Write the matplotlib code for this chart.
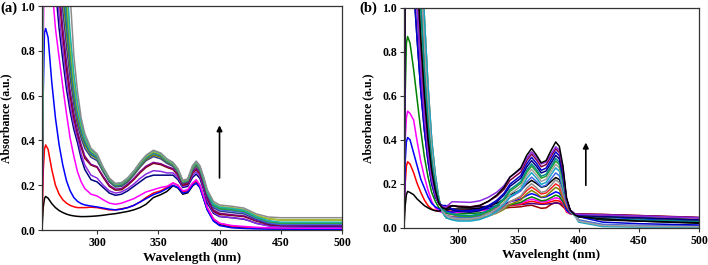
"""
UV-vis titration spectra, panels (a) and (b).
"""
import matplotlib
matplotlib.use('Agg')
import matplotlib.pyplot as plt

plt.rcParams.update({
    'font.family': ['Liberation Serif', 'DejaVu Serif'],
    'font.weight': 'bold',
    'axes.labelweight': 'bold',
    'font.size': 8.5,
    'axes.linewidth': 0.9,
    'axes.edgecolor': '#333333',
})

# ---------------- panel (a) ----------------
wl_a = [255, 256, 257, 258, 260, 263, 266, 269, 272, 275, 278, 281, 284, 287, 290,
        295, 300, 305, 310, 315, 320, 325, 330, 335, 340, 346, 352, 357, 362, 366,
        370, 374, 378, 381, 384, 387, 390, 395, 400, 410, 420, 425, 430, 440, 450,
        475, 500]

a_black = [0, 0.1, 0.14, 0.15, 0.142, 0.118, 0.1, 0.087, 0.078, 0.071, 0.066, 0.063, 0.061, 0.06, 0.06,
           0.061, 0.063, 0.066, 0.07, 0.073, 0.078, 0.083, 0.09, 0.1, 0.115, 0.145, 0.158, 0.172, 0.198, 0.188,
           0.16, 0.166, 0.197, 0.21, 0.19, 0.14, 0.09, 0.045, 0.025, 0.013, 0.01, 0.009, 0.008, 0.007, 0.006,
           0.005, 0.005]
a_red = [0, 0.26, 0.36, 0.38, 0.36, 0.27, 0.2, 0.16, 0.135, 0.12, 0.11, 0.104, 0.1, 0.1, 0.1,
         0.102, 0.1, 0.095, 0.09, 0.09, 0.095, 0.1, 0.11, 0.125, 0.145, 0.165, 0.175, 0.19, 0.21, 0.2,
         0.17, 0.176, 0.207, 0.22, 0.2, 0.15, 0.1, 0.05, 0.03, 0.017, 0.013, 0.011, 0.009, 0.008, 0.007,
         0.006, 0.006]
a_blue = [0, 0.6, 0.88, 0.9, 0.86, 0.66, 0.5, 0.38, 0.29, 0.22, 0.175, 0.145, 0.128, 0.118, 0.112,
          0.107, 0.103, 0.098, 0.093, 0.09, 0.093, 0.1, 0.11, 0.125, 0.14, 0.158, 0.17, 0.185, 0.2, 0.19,
          0.165, 0.17, 0.2, 0.21, 0.19, 0.14, 0.09, 0.04, 0.02, 0.01, 0.007, 0.006, 0.005, 0.004, 0.004,
          0.003, 0.003]
a_magenta = [0, 0.8, 1.3, 1.5, 1.45, 1.1, 0.9, 0.77, 0.64, 0.52, 0.41, 0.33, 0.26, 0.215, 0.185,
             0.16, 0.152, 0.135, 0.12, 0.115, 0.12, 0.13, 0.14, 0.155, 0.17, 0.18, 0.19, 0.195, 0.21, 0.2,
             0.175, 0.18, 0.21, 0.225, 0.2, 0.15, 0.1, 0.05, 0.03, 0.02, 0.016, 0.014, 0.012, 0.01, 0.009,
             0.008, 0.008]

# upper family: common sharp rise, then own fall (263-290) and band (295-500)
rise_a = [0, 1.2, 2.0, 2.5, 2.5]
a_navy = rise_a + [1.4, 1.08, 0.9, 0.76, 0.63, 0.53, 0.45, 0.39, 0.32, 0.27] + [
    0.225, 0.215, 0.19, 0.165, 0.155, 0.16, 0.175, 0.195, 0.215, 0.235, 0.245, 0.245, 0.245, 0.245, 0.225,
    0.19, 0.195, 0.235, 0.25, 0.23, 0.18, 0.12, 0.075, 0.06, 0.055, 0.048, 0.04, 0.03, 0.02, 0.017,
    0.015, 0.015]
a_violet = rise_a + [1.5, 1.15, 0.96, 0.81, 0.67, 0.56, 0.47, 0.41, 0.34, 0.29] + [
    0.245, 0.232, 0.2, 0.175, 0.165, 0.17, 0.185, 0.205, 0.23, 0.25, 0.265, 0.262, 0.255, 0.255, 0.235,
    0.195, 0.2, 0.245, 0.26, 0.24, 0.19, 0.13, 0.08, 0.062, 0.055, 0.05, 0.04, 0.03, 0.018, 0.014,
    0.012, 0.012]
a_wine = rise_a + [1.6, 1.25, 1.04, 0.87, 0.72, 0.6, 0.5, 0.43, 0.37, 0.32] + [
    0.29, 0.28, 0.235, 0.195, 0.178, 0.18, 0.2, 0.225, 0.255, 0.28, 0.298, 0.292, 0.28, 0.27, 0.245,
    0.2, 0.205, 0.255, 0.27, 0.25, 0.2, 0.14, 0.085, 0.07, 0.065, 0.06, 0.05, 0.04, 0.025, 0.02,
    0.02, 0.02]
a_purple = rise_a + [1.65, 1.3, 1.08, 0.9, 0.75, 0.62, 0.52, 0.44, 0.38, 0.33] + [
    0.293, 0.283, 0.24, 0.2, 0.182, 0.185, 0.205, 0.23, 0.26, 0.285, 0.302, 0.296, 0.284, 0.274, 0.25,
    0.205, 0.21, 0.26, 0.275, 0.255, 0.205, 0.145, 0.09, 0.075, 0.068, 0.063, 0.053, 0.042, 0.028, 0.022,
    0.022, 0.022]
a_slate = rise_a + [1.8, 1.45, 1.18, 0.98, 0.82, 0.68, 0.56, 0.47, 0.41, 0.365] + [
    0.325, 0.31, 0.26, 0.215, 0.192, 0.195, 0.215, 0.245, 0.28, 0.31, 0.328, 0.318, 0.298, 0.284, 0.258,
    0.21, 0.215, 0.268, 0.285, 0.265, 0.215, 0.155, 0.1, 0.085, 0.078, 0.072, 0.06, 0.048, 0.03, 0.025,
    0.025, 0.025]
a_olive = rise_a + [1.9, 1.55, 1.27, 1.05, 0.88, 0.72, 0.59, 0.49, 0.43, 0.38] + [
    0.335, 0.318, 0.265, 0.22, 0.196, 0.2, 0.22, 0.25, 0.285, 0.315, 0.335, 0.325, 0.303, 0.289, 0.262,
    0.212, 0.218, 0.272, 0.29, 0.27, 0.22, 0.165, 0.115, 0.1, 0.095, 0.088, 0.075, 0.062, 0.05, 0.045,
    0.045, 0.045]
a_dkcyan = rise_a + [2.0, 1.65, 1.35, 1.1, 0.92, 0.75, 0.61, 0.51, 0.44, 0.39] + [
    0.34, 0.322, 0.268, 0.222, 0.198, 0.202, 0.223, 0.254, 0.29, 0.32, 0.342, 0.33, 0.306, 0.292, 0.265,
    0.214, 0.22, 0.276, 0.295, 0.274, 0.222, 0.165, 0.11, 0.095, 0.09, 0.083, 0.07, 0.055, 0.038, 0.03,
    0.03, 0.03]
a_royal = rise_a + [2.1, 1.75, 1.42, 1.16, 0.96, 0.78, 0.63, 0.52, 0.45, 0.4] + [
    0.345, 0.326, 0.27, 0.224, 0.2, 0.204, 0.225, 0.256, 0.292, 0.323, 0.345, 0.333, 0.308, 0.293, 0.266,
    0.215, 0.221, 0.278, 0.297, 0.275, 0.223, 0.163, 0.105, 0.09, 0.085, 0.078, 0.066, 0.052, 0.033, 0.025,
    0.025, 0.025]
a_green = rise_a + [2.2, 1.85, 1.5, 1.22, 1.0, 0.8, 0.65, 0.54, 0.46, 0.405] + [
    0.35, 0.33, 0.273, 0.226, 0.202, 0.206, 0.227, 0.258, 0.295, 0.326, 0.348, 0.336, 0.31, 0.295, 0.268,
    0.216, 0.222, 0.28, 0.3, 0.277, 0.225, 0.166, 0.11, 0.095, 0.09, 0.083, 0.07, 0.056, 0.038, 0.03,
    0.03, 0.03]
a_ygreen = rise_a + [2.3, 1.95, 1.6, 1.3, 1.06, 0.84, 0.67, 0.55, 0.47, 0.41] + [
    0.355, 0.333, 0.275, 0.228, 0.204, 0.208, 0.229, 0.26, 0.297, 0.328, 0.35, 0.338, 0.312, 0.297, 0.27,
    0.218, 0.224, 0.283, 0.302, 0.28, 0.23, 0.172, 0.12, 0.105, 0.1, 0.092, 0.08, 0.066, 0.05, 0.045,
    0.045, 0.045]
a_cyan = rise_a + [2.4, 2.05, 1.7, 1.38, 1.12, 0.88, 0.7, 0.57, 0.48, 0.415] + [
    0.36, 0.336, 0.278, 0.23, 0.206, 0.21, 0.231, 0.262, 0.3, 0.332, 0.355, 0.342, 0.315, 0.3, 0.272,
    0.22, 0.226, 0.285, 0.305, 0.283, 0.232, 0.172, 0.117, 0.102, 0.096, 0.088, 0.075, 0.06, 0.042, 0.035,
    0.035, 0.035]
a_gray = rise_a + [2.5, 2.2, 1.8, 1.5, 1.25, 1.05, 0.78, 0.62, 0.5, 0.43] + [
    0.365, 0.34, 0.28, 0.232, 0.208, 0.212, 0.233, 0.264, 0.302, 0.334, 0.356, 0.344, 0.318, 0.302, 0.274,
    0.222, 0.228, 0.288, 0.308, 0.287, 0.238, 0.18, 0.128, 0.112, 0.106, 0.098, 0.085, 0.072, 0.058, 0.055,
    0.055, 0.055]

spectra_a = [a_black, a_red, a_blue, a_magenta, a_navy, a_violet, a_wine, a_purple,
             a_slate, a_olive, a_dkcyan, a_royal, a_green, a_ygreen, a_cyan, a_gray]
colors_a = ['#000000', '#FF0000', '#0000FF', '#FF00FF', '#000080', '#8A2BE2', '#800000', '#800080',
            '#2F3F8F', '#808000', '#008080', '#4169E1', '#2E9E3E', '#A8C030', '#20B2AA', '#8C8C8C']

# ---------------- panel (b) ----------------
wl_b = [255, 256, 257, 258, 260, 263, 266, 269, 272, 275, 278, 281, 284, 287, 290,
        295, 300, 310, 318, 325, 332, 338, 343, 347, 352, 357, 361, 365, 369, 373,
        377, 381, 384, 387, 390, 393, 397, 400, 420, 450, 500]

rise_b = [0, 1.2, 2.0, 2.5, 2.5]
fall_1 = [1.1, 0.85, 0.62, 0.44, 0.3, 0.2, 0.14, 0.11, 0.1, 0.1]
fall_2 = [1.3, 1.0, 0.72, 0.5, 0.34, 0.22, 0.15, 0.11, 0.095, 0.095]
fall_3 = [1.5, 1.15, 0.85, 0.6, 0.4, 0.26, 0.17, 0.11, 0.09, 0.085]
fall_4 = [1.7, 1.35, 1.0, 0.7, 0.47, 0.3, 0.19, 0.12, 0.085, 0.07]
fall_5 = [1.9, 1.55, 1.15, 0.82, 0.55, 0.35, 0.21, 0.12, 0.075, 0.055]
fall_6 = [2.1, 1.75, 1.3, 0.95, 0.64, 0.4, 0.24, 0.13, 0.07, 0.045]

b_darkred = rise_b + fall_3 + [
    0.1, 0.095, 0.09, 0.085, 0.085, 0.085, 0.088, 0.092, 0.093, 0.095, 0.1, 0.102, 0.095,
    0.088, 0.09, 0.105, 0.115, 0.11, 0.095, 0.08, 0.068, 0.062, 0.062, 0.06, 0.055, 0.045]
b_indigo = rise_b + fall_2 + [
    0.1, 0.097, 0.095, 0.095, 0.097, 0.098, 0.1, 0.103, 0.104, 0.105, 0.108, 0.11, 0.108,
    0.106, 0.107, 0.109, 0.112, 0.11, 0.106, 0.08, 0.065, 0.06, 0.06, 0.058, 0.053, 0.045]
b_red = [0, 0.2, 0.28, 0.3, 0.29, 0.25, 0.2, 0.16, 0.125, 0.1, 0.085, 0.078, 0.075, 0.075, 0.075] + [
    0.075, 0.078, 0.08, 0.081, 0.084, 0.088, 0.093, 0.1, 0.103, 0.106, 0.115, 0.12, 0.116,
    0.11, 0.112, 0.118, 0.124, 0.121, 0.108, 0.071, 0.063, 0.06, 0.055, 0.05, 0.045, 0.035]
b_magenta = [0, 0.4, 0.5, 0.53, 0.52, 0.49, 0.39, 0.3, 0.23, 0.17, 0.12, 0.09, 0.075, 0.068, 0.065] + [
    0.065, 0.07, 0.075, 0.077, 0.081, 0.086, 0.093, 0.103, 0.106, 0.111, 0.123, 0.13, 0.124,
    0.117, 0.119, 0.127, 0.136, 0.132, 0.114, 0.075, 0.064, 0.06, 0.055, 0.05, 0.045, 0.035]
b_green = [0, 0.6, 0.84, 0.87, 0.84, 0.72, 0.58, 0.44, 0.32, 0.23, 0.16, 0.12, 0.09, 0.075, 0.065] + [
    0.06, 0.062, 0.065, 0.067, 0.073, 0.08, 0.09, 0.103, 0.108, 0.115, 0.131, 0.14, 0.132,
    0.122, 0.125, 0.136, 0.148, 0.142, 0.118, 0.08, 0.066, 0.06, 0.055, 0.05, 0.045, 0.035]
b_blue = [0, 0.3, 0.39, 0.41, 0.4, 0.34, 0.28, 0.22, 0.18, 0.14, 0.11, 0.095, 0.085, 0.08, 0.075] + [
    0.07, 0.075, 0.08, 0.082, 0.088, 0.095, 0.105, 0.118, 0.123, 0.13, 0.146, 0.155, 0.147,
    0.137, 0.14, 0.151, 0.163, 0.157, 0.133, 0.081, 0.066, 0.06, 0.055, 0.048, 0.04, 0.03]
b_black0 = [0, 0.1, 0.15, 0.165, 0.16, 0.15, 0.13, 0.115, 0.1, 0.09, 0.082, 0.077, 0.075, 0.078, 0.08] + [
    0.085, 0.085, 0.085, 0.089, 0.098, 0.111, 0.128, 0.15, 0.159, 0.171, 0.199, 0.215, 0.201,
    0.184, 0.189, 0.209, 0.228, 0.219, 0.176, 0.096, 0.07, 0.06, 0.05, 0.035, 0.03, 0.02]
b_olive = rise_b + fall_6 + [
    0.038, 0.038, 0.04, 0.044, 0.053, 0.066, 0.083, 0.105, 0.114, 0.126, 0.154, 0.17, 0.156,
    0.139, 0.144, 0.164, 0.183, 0.174, 0.131, 0.096, 0.07, 0.055, 0.035, 0.012, 0.008, 0.005]
b_red2 = rise_b + fall_5 + [
    0.05, 0.048, 0.05, 0.054, 0.064, 0.077, 0.095, 0.118, 0.127, 0.139, 0.169, 0.185, 0.17,
    0.153, 0.158, 0.178, 0.199, 0.189, 0.145, 0.098, 0.071, 0.06, 0.055, 0.05, 0.045, 0.035]
b_gray = rise_b + fall_6 + [
    0.038, 0.035, 0.035, 0.04, 0.052, 0.068, 0.089, 0.118, 0.129, 0.144, 0.18, 0.2, 0.182,
    0.16, 0.167, 0.192, 0.217, 0.205, 0.151, 0.106, 0.073, 0.055, 0.03, 0.008, 0.005, 0.003]
b_royal = rise_b + fall_5 + [
    0.048, 0.045, 0.045, 0.051, 0.064, 0.082, 0.106, 0.138, 0.15, 0.167, 0.208, 0.23, 0.21,
    0.186, 0.193, 0.221, 0.249, 0.236, 0.175, 0.112, 0.075, 0.058, 0.035, 0.015, 0.01, 0.006]
b_teal = rise_b + fall_6 + [
    0.035, 0.03, 0.03, 0.037, 0.052, 0.074, 0.103, 0.14, 0.155, 0.175, 0.224, 0.25, 0.226,
    0.197, 0.206, 0.239, 0.272, 0.257, 0.184, 0.122, 0.078, 0.055, 0.025, 0.005, 0.003, 0.002]
b_gray2 = rise_b + fall_5 + [
    0.045, 0.04, 0.04, 0.047, 0.063, 0.085, 0.114, 0.153, 0.168, 0.189, 0.238, 0.265, 0.24,
    0.211, 0.22, 0.254, 0.288, 0.272, 0.198, 0.123, 0.078, 0.058, 0.03, 0.01, 0.007, 0.004]
b_green2 = rise_b + fall_4 + [
    0.06, 0.052, 0.05, 0.057, 0.073, 0.096, 0.126, 0.165, 0.181, 0.202, 0.252, 0.28, 0.255,
    0.225, 0.234, 0.269, 0.303, 0.287, 0.211, 0.124, 0.078, 0.06, 0.055, 0.05, 0.045, 0.035]
b_dkcyan = rise_b + fall_4 + [
    0.062, 0.057, 0.055, 0.062, 0.079, 0.102, 0.133, 0.173, 0.189, 0.21, 0.262, 0.29, 0.264,
    0.234, 0.243, 0.278, 0.314, 0.297, 0.22, 0.126, 0.079, 0.06, 0.05, 0.04, 0.035, 0.028]
b_navy = rise_b + fall_1 + [
    0.08, 0.074, 0.07, 0.077, 0.094, 0.117, 0.148, 0.188, 0.204, 0.225, 0.277, 0.305, 0.279,
    0.249, 0.258, 0.293, 0.329, 0.312, 0.235, 0.126, 0.079, 0.06, 0.055, 0.05, 0.045, 0.035]
b_blue2 = rise_b + fall_1 + [
    0.085, 0.078, 0.075, 0.082, 0.1, 0.124, 0.156, 0.198, 0.215, 0.237, 0.291, 0.32, 0.293,
    0.261, 0.271, 0.308, 0.345, 0.327, 0.247, 0.129, 0.08, 0.06, 0.05, 0.025, 0.018, 0.012]
b_wine = rise_b + fall_2 + [
    0.1, 0.097, 0.095, 0.102, 0.119, 0.143, 0.174, 0.215, 0.232, 0.253, 0.306, 0.335, 0.309,
    0.277, 0.287, 0.323, 0.359, 0.342, 0.263, 0.127, 0.079, 0.062, 0.062, 0.06, 0.055, 0.047]
b_violet = rise_b + fall_2 + [
    0.118, 0.117, 0.115, 0.122, 0.138, 0.161, 0.191, 0.23, 0.246, 0.267, 0.317, 0.345, 0.32,
    0.29, 0.299, 0.334, 0.368, 0.352, 0.276, 0.124, 0.078, 0.062, 0.06, 0.058, 0.053, 0.045]
b_black = rise_b + fall_3 + [
    0.1, 0.095, 0.093, 0.1, 0.12, 0.148, 0.183, 0.23, 0.248, 0.272, 0.33, 0.36, 0.33,
    0.295, 0.305, 0.35, 0.39, 0.37, 0.28, 0.135, 0.08, 0.058, 0.05, 0.04, 0.03, 0.022]

spectra_b = [b_darkred, b_indigo, b_red, b_magenta, b_green, b_blue, b_black0, b_olive,
             b_red2, b_gray, b_royal, b_teal, b_gray2, b_green2, b_dkcyan, b_navy,
             b_blue2, b_wine, b_violet, b_black]
colors_b = ['#990000', '#4B0082', '#FF0000', '#FF00FF', '#008000', '#0000FF', '#000000', '#808000',
            '#FF2020', '#909090', '#4169E1', '#17A5C5', '#A0A0A0', '#2CA02C', '#008B8B', '#000080',
            '#0000CD', '#800040', '#8A2BE2', '#000000']


def draw_panel(ax, wl, spectra, colors, xlabel, arrow_x, arrow_y):
    for y, c in zip(spectra, colors):
        ax.plot(wl, y, color=c, lw=1.1)

    ax.annotate('', xy=(arrow_x, arrow_y[1]), xytext=(arrow_x, arrow_y[0]),
                arrowprops=dict(arrowstyle='-|>', color='black', lw=1.2,
                                mutation_scale=8))

    ax.set_xlim(255, 500)
    ax.set_ylim(0, 1.0)
    ax.set_xticks([300, 350, 400, 450, 500])
    ax.set_yticks([0.0, 0.2, 0.4, 0.6, 0.8, 1.0])
    ax.set_yticklabels(['0.0', '0.2', '0.4', '0.6', '0.8', '1.0'])
    ax.tick_params(direction='out', length=3, width=0.8, labelsize=8.5,
                   color='#333333', pad=2)
    for lab in ax.get_xticklabels() + ax.get_yticklabels():
        lab.set_fontweight('bold')
    ax.set_xlabel(xlabel, fontsize=9.5, fontweight='bold', labelpad=2)
    ax.set_ylabel('Absorbance (a.u.)', fontsize=8.5, fontweight='bold')


def main():
    fig = plt.figure(figsize=(7.08, 2.65), dpi=100)
    ax1 = fig.add_axes([0.0593, 0.132, 0.4237, 0.845])
    ax2 = fig.add_axes([0.5706, 0.141, 0.4167, 0.829])

    draw_panel(ax1, wl_a, spectra_a, colors_a, 'Wavelength (nm)', 400, (0.22, 0.48))
    draw_panel(ax2, wl_b, spectra_b, colors_b, 'Wavelenght (nm)', 406, (0.18, 0.40))

    ax1.yaxis.set_label_coords(-0.098, 0.5)
    ax2.yaxis.set_label_coords(-0.10, 0.5)

    fig.text(0.0, 0.995, '(a)', fontsize=10.5, fontweight='bold', va='top', ha='left')
    fig.text(0.508, 0.995, '(b)', fontsize=10.5, fontweight='bold', va='top', ha='left')

    fig.savefig('out.png', dpi=100)
    plt.close(fig)


if __name__ == '__main__':
    main()
